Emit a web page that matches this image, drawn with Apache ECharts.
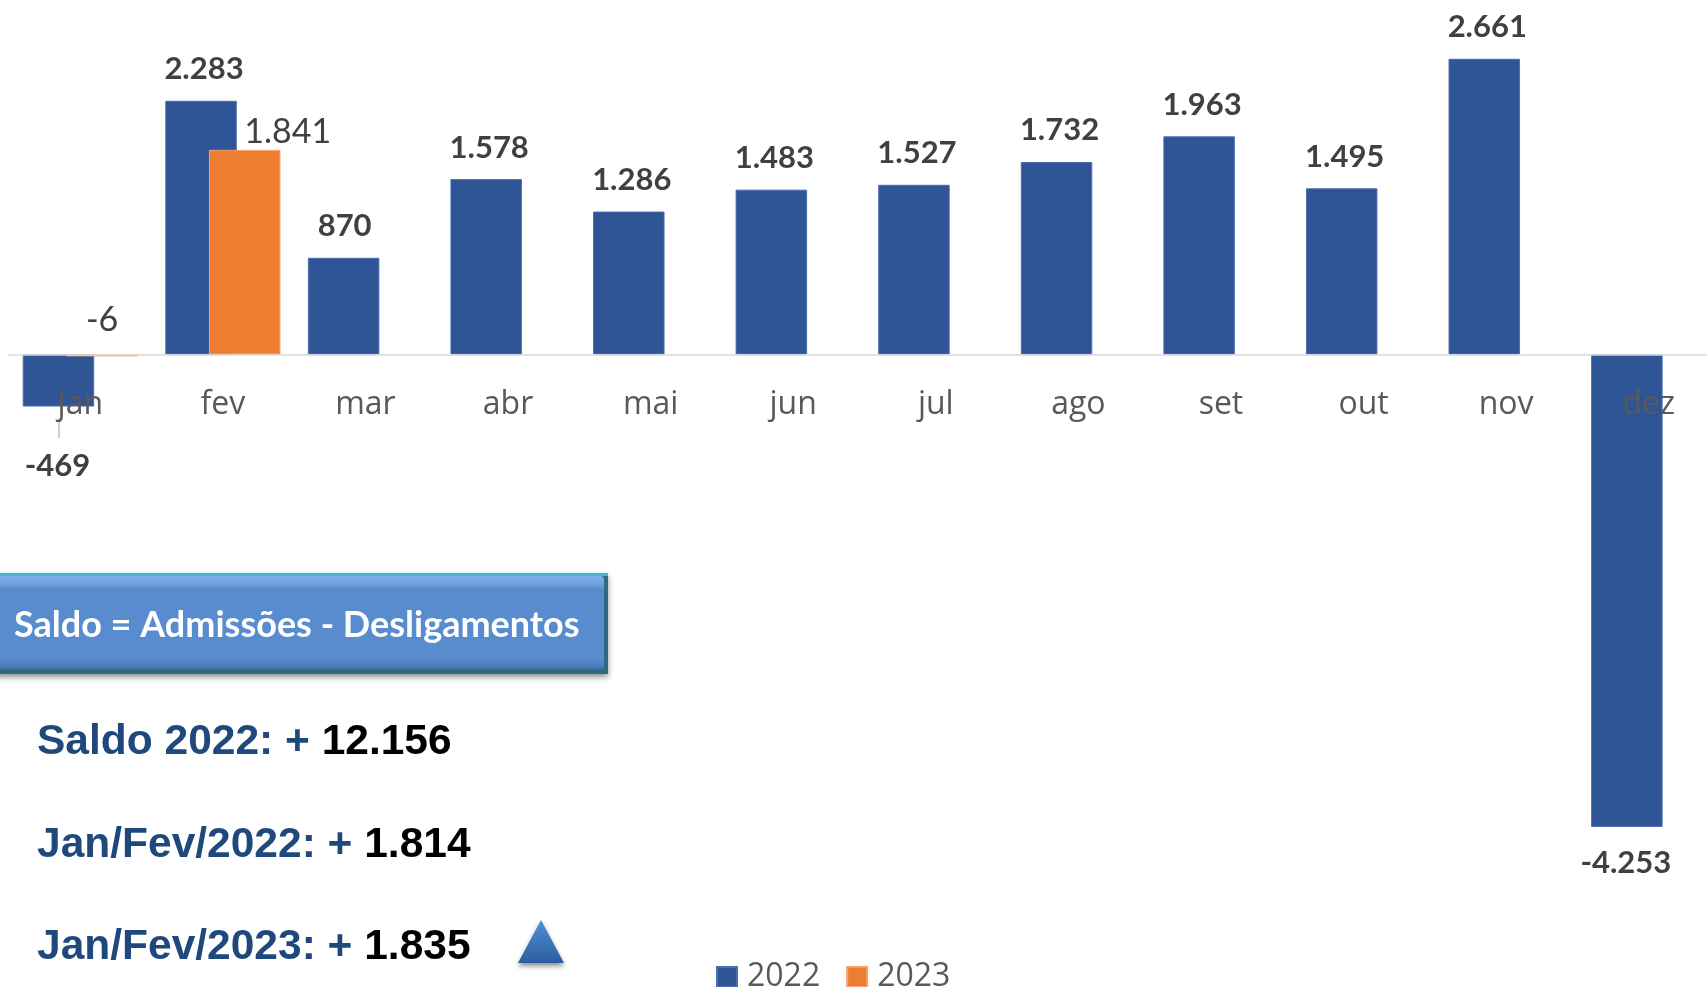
<!DOCTYPE html>
<html>
<head>
<meta charset="utf-8">
<style>html,body{margin:0;padding:0;background:#fff}#c{width:1707px;height:987px}</style>
<script src="https://cdn.jsdelivr.net/npm/echarts@6/dist/echarts.min.js"></script>
</head>
<body>
<div id="c"></div>
<script>
const categories = ['jan','fev','mar','abr','mai','jun','jul','ago','set','out','nov','dez'];
const values2022 = [-469,2283,870,1578,1286,1483,1527,1732,1963,1495,2661,-4253];
const values2023 = [-6,1841,null,null,null,null,null,null,null,null,null,null];
const legendNames = ['2022','2023'];
const boxText = 'Saldo = Admissões - Desligamentos';
const summaryLabels = ['Saldo 2022: +','Jan/Fev/2022: +','Jan/Fev/2023: +'];
const summaryValues = ['12.156','1.814','1.835'];

const fmt = p => String(p.value).replace(/\B(?=(\d{3})+$)/g,'.');
const labelFont = 'Lato';
const summaryY = [742,845,947];

const chart = echarts.init(document.getElementById('c'));
const data22 = values2022.map((v,i)=>{
  if(i===0) return {value:v,label:{offset:[-1,28]}};
  if(i===2) return {value:v,label:{offset:[1,0]}};
  if(i===11) return {value:v,label:{offset:[-1,5]}};
  return v;
});
const data23 = values2023.map((v,i)=>{
  if(i===0) return {value:v,label:{position:'top',distance:17,offset:[0,0]}};
  if(i===1) return {value:v,label:{offset:[43,13]}};
  return v;
});
chart.setOption({
  animation:false,
  backgroundColor:'#fff',
  grid:{left:9,top:21.1,width:1711,height:888.9,containLabel:false,outerBoundsMode:'none'},
  legend:{
    data:legendNames,left:711,top:956,itemWidth:20,itemHeight:20,itemGap:26,
    icon:'rect',
    textStyle:{fontFamily:'Open Sans',fontSize:32,color:'#595959',padding:[0,0,0,5]}
  },
  xAxis:{
    type:'category',data:categories,z:5,
    axisLine:{onZero:true,lineStyle:{color:'#d9d9d9',width:1.5}},
    axisTick:{show:false},
    axisLabel:{fontFamily:'Open Sans',fontSize:32,color:'#595959',margin:-521,interval:0,hideOverlap:false}
  },
  yAxis:{type:'value',min:-5000,max:3000,interval:1000,show:false,splitLine:{show:false}},
  series:[
    {name:'2022',type:'bar',data:data22,barWidth:71.5,barGap:'-38.9%',
     itemStyle:{color:'#2f5597',borderColor:'#4a6fae',borderWidth:1},z:2,
     label:{show:true,position:'outside',distance:16,offset:[3,0],formatter:fmt,
       fontFamily:labelFont,fontWeight:'bold',fontSize:31,color:'#404040'}},
    {name:'2023',type:'bar',data:data23,barWidth:71.5,barMinHeight:2,
     itemStyle:{color:'#ed7d31',borderColor:'#f4a26f',borderWidth:1},z:3,
     label:{show:true,position:'outside',distance:14,formatter:fmt,
       fontFamily:labelFont,fontSize:34,color:'#404040'}}
  ],
  graphic:[
    {type:'line',z:1,shape:{x1:59,y1:418,x2:59,y2:438},style:{stroke:'#bfbfbf',lineWidth:1.5}},
    {type:'rect',z:10,shape:{x:-4,y:573,width:612,height:101},
      style:{fill:'#2e6a80',shadowBlur:6,shadowColor:'rgba(0,0,0,0.45)',shadowOffsetY:3}},
    {type:'rect',z:11,shape:{x:-4,y:573,width:612,height:3},style:{fill:'#45b4cf'}},
    {type:'rect',z:11,shape:{x:-4,y:576,width:608,height:94,r:[0,4,4,0]},
      style:{fill:{type:'linear',x:0,y:0,x2:0,y2:1,colorStops:[
        {offset:0,color:'#7fb0ee'},{offset:0.09,color:'#6f9fdf'},{offset:0.14,color:'#588ccf'},
        {offset:0.88,color:'#588ccf'},{offset:0.96,color:'#4d7bb8'},{offset:1,color:'#3f6a9e'}]}}},
    {type:'text',z:12,x:14,y:625,style:{text:boxText,fontFamily:'Lato',fontWeight:'bold',fontSize:36,
      fill:'#fff',textAlign:'left',textVerticalAlign:'middle'}},
    ...summaryLabels.map((t,i)=>({type:'text',z:12,x:37,y:summaryY[i],style:{
      text:'{a|'+t+' }{b|'+summaryValues[i]+'}',textVerticalAlign:'middle',textAlign:'left',
      rich:{a:{fontFamily:'Liberation Sans',fontWeight:'bold',fontSize:42.5,fill:'#1f497d'},
            b:{fontFamily:'Liberation Sans',fontWeight:'bold',fontSize:42.5,fill:'#000'}}}})),
    {type:'polygon',z:11,shape:{points:[[541,920],[564,963],[518,963]]},
      style:{fill:{type:'linear',x:0,y:0,x2:0,y2:1,colorStops:[
        {offset:0,color:'#4f8fd6'},{offset:0.6,color:'#3a72b8'},{offset:1,color:'#2c5d9e'}]},
        shadowBlur:5,shadowColor:'rgba(0,0,0,0.45)',shadowOffsetY:3}}
  ]
});
</script>
</body>
</html>
